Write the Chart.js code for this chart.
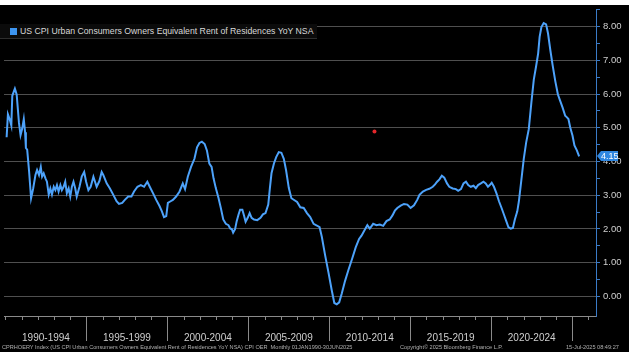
<!DOCTYPE html>
<html>
<head>
<meta charset="utf-8">
<script src="https://cdn.jsdelivr.net/npm/chart.js@4.4.1/dist/chart.umd.min.js"></script>
<style>
  body{margin:0;background:#fff;width:629px;height:352px;overflow:hidden;font-family:'Liberation Sans',Arial,sans-serif}
  #panel{position:absolute;left:0;top:5px;width:629px;height:347px;background:#000}
  #chart{position:absolute;left:0;top:0}
  #legend{position:absolute;left:0;top:19px;width:317px;height:14px;background:#0b0b0b;border-bottom:1px solid #2e2e2e;color:#d8d8d8;font-size:8.7px;line-height:14px;white-space:nowrap}
  #legend span{display:inline-block;width:7px;height:7px;background:#3d95f0;margin:0 3px 0 10px;vertical-align:-0.5px}
  .foot{position:absolute;top:338px;font-size:5.6px;color:#b0b0b0;white-space:nowrap;line-height:8px}
</style>
</head>
<body>
<div id="panel">
  <canvas id="chart" width="629" height="347"></canvas>
  <div id="legend"><span></span>US CPI Urban Consumers Owners Equivalent Rent of Residences YoY NSA</div>
  <div class="foot" style="left:2px">CPRHOERY Index (US CPI Urban Consumers Owners Equivalent Rent of Residences YoY NSA) CPI OER&nbsp; Monthly 01JAN1990-30JUN2025</div>
  <div class="foot" style="left:400px">Copyright© 2025 Bloomberg Finance L.P.</div>
  <div class="foot" style="left:566px">15-Jul-2025 08:49:27</div>
</div>
<script>
window.onload=function(){

  // decimal year of each point
  var dateX = [1990.07,1990.15,1990.28,1990.36,1990.42,1990.58,1990.69,1990.83,1990.93,1991.03,1991.13,1991.21,1991.26,1991.34,1991.46,1991.58,1991.71,1991.85,1991.95,1992.07,1992.18,1992.26,1992.36,1992.47,1992.56,1992.67,1992.77,1992.87,1992.98,1993.08,1993.18,1993.28,1993.39,1993.48,1993.59,1993.69,1993.79,1993.90,1994.00,1994.10,1994.20,1994.31,1994.40,1994.57,1994.71,1994.86,1994.98,1995.12,1995.26,1995.43,1995.53,1995.63,1995.80,1995.94,1996.04,
    1996.25,1996.45,1996.66,1996.86,1997.01,1997.21,1997.37,1997.58,1997.78,1997.94,1998.15,1998.36,1998.56,1998.76,1998.91,1999.11,1999.31,1999.52,1999.66,1999.79,1999.93,2000.03,2000.20,2000.34,2000.54,2000.75,2000.95,2001.09,2001.26,2001.46,2001.67,2001.83,2001.98,2002.13,2002.30,2002.44,2002.59,2002.73,2002.85,2002.99,2003.16,2003.30,2003.45,2003.61,2003.77,2003.88,2003.98,2004.06,2004.18,2004.28,2004.39,2004.49,2004.63,2004.74,2004.83,2004.96,
    2005.08,2005.20,2005.35,2005.55,2005.75,2005.90,2006.06,2006.23,2006.33,2006.43,2006.58,2006.72,2006.88,2007.04,2007.19,2007.33,2007.50,2007.66,2008.01,2008.21,2008.42,2008.62,2008.82,2009.03,2009.23,2009.40,2009.54,2009.74,2009.95,2010.15,2010.31,2010.46,2010.61,2010.77,2010.97,2011.18,2011.40,2011.63,2011.84,2011.99,2012.20,2012.35,2012.50,2012.71,2012.91,2013.12,2013.33,2013.53,2013.73,2013.90,2014.05,2014.20,2014.41,2014.61,2014.82,
    2015.02,2015.23,2015.43,2015.57,2015.78,2015.98,2016.18,2016.39,2016.53,2016.66,2016.80,2016.95,2017.10,2017.27,2017.41,2017.62,2017.82,2017.96,2018.13,2018.29,2018.44,2018.58,2018.74,2018.91,2019.05,2019.19,2019.36,2019.52,2019.66,2019.80,2019.91,2020.03,2020.17,2020.32,2020.48,2020.64,2020.79,2020.93,2021.06,2021.20,2021.34,2021.46,2021.61,2021.71,2021.85,2022.01,2022.16,2022.32,2022.48,2022.63,2022.77,2022.90,2022.99,2023.10,2023.24,2023.39,2023.51,2023.65,2023.79,2023.96,2024.12,2024.26,2024.41,2024.57,2024.68,2024.77,2024.88,2025.02,2025.14,2025.29,2025.43]

  // OER YoY %, same order
  var oerYoY = [4.72,5.40,5.22,5.07,5.95,6.16,5.99,5.16,4.78,4.97,5.26,4.87,4.40,4.35,3.69,2.91,3.20,3.60,3.75,3.60,3.84,3.55,3.65,3.50,3.40,3.02,3.20,3.02,3.25,3.15,3.30,3.11,3.30,3.15,3.25,3.40,3.06,3.20,2.96,3.25,3.40,3.20,2.96,3.25,3.55,3.69,3.40,3.15,3.25,3.55,3.40,3.25,3.42,3.69,3.60,
    3.35,3.20,3.01,2.82,2.74,2.77,2.86,2.96,2.96,3.11,3.25,3.30,3.25,3.40,3.25,3.06,2.86,2.67,2.52,2.35,2.38,2.77,2.82,2.86,2.96,3.11,3.35,3.18,3.55,3.84,4.08,4.42,4.55,4.59,4.52,4.33,3.94,3.84,3.50,3.21,2.91,2.62,2.28,2.15,2.11,2.01,1.99,1.89,1.99,2.23,2.42,2.57,2.57,2.38,2.21,2.33,
    2.47,2.33,2.28,2.26,2.33,2.43,2.47,2.72,3.21,3.65,3.94,4.13,4.28,4.26,4.08,3.74,3.21,2.91,2.80,2.64,2.62,2.47,2.35,2.15,2.10,2.05,1.76,1.22,0.70,0.18,-0.20,-0.24,-0.18,0.08,0.45,0.78,1.10,1.45,1.70,1.80,1.98,2.11,2.01,2.15,2.11,2.13,2.09,2.23,2.28,2.40,2.54,2.62,2.69,2.74,2.72,
    2.62,2.70,2.86,3.01,3.11,3.16,3.19,3.25,3.32,3.40,3.47,3.58,3.52,3.35,3.25,3.20,3.18,3.13,3.18,3.35,3.40,3.30,3.25,3.28,3.21,3.30,3.35,3.40,3.35,3.25,3.30,3.37,3.25,3.06,2.82,2.62,2.42,2.23,2.05,2.01,2.03,2.28,2.52,2.82,3.40,4.08,4.57,4.96,5.75,6.43,6.82,7.21,7.70,7.99,8.11,8.07,7.80,7.31,6.87,6.38,5.99,5.80,5.60,5.36,5.31,5.26,5.01,4.77,4.48,4.33,4.15]

  var lastLabel = '4.15'
  var yTicks = [0,0.5,1,1.5,2,2.5,3,3.5,4,4.5,5,5.5,6,6.5,7,7.5,8,8.5]
  var periodMid = [1992.5,1997.5,2002.5,2007.5,2012.5,2017.5,2022.5]
  var periodLabels = ['1990-1994','1995-1999','2000-2004','2005-2009','2010-2014','2015-2019','2020-2024']
  var separators = [1995,2000,2005,2010,2015,2020,2025]
  var redDot = [{x:2012.79, y:4.89}]

  Chart.defaults.font.family = "'Liberation Sans', Arial, sans-serif"

  // x axis line, yearly ticks, 5 year separators, last value tag
  var axisDeco = {
    id:'axisDeco',
    afterDraw:function(chart){
      var c = chart.ctx, a = chart.chartArea, xs = chart.scales.x, ys = chart.scales.y
      c.save()
      c.strokeStyle = '#8a8a8a'
      c.lineWidth = 1
      c.beginPath()
      c.moveTo(a.left, a.bottom+0.5); c.lineTo(a.right, a.bottom+0.5)
      for (var yr=1990; yr<=2026; yr++){
        var px = Math.round(xs.getPixelForValue(yr))+0.5
        var len = separators.indexOf(yr)>=0 ? 25 : 4
        c.moveTo(px, a.bottom); c.lineTo(px, a.bottom+len)
      }
      c.stroke()

      // current value tag
      var v = oerYoY[oerYoY.length-1]
      var py = Math.round(ys.getPixelForValue(v))
      var x0 = a.right+1
      c.fillStyle = '#2f86e0'
      c.beginPath()
      c.moveTo(x0, py)
      c.lineTo(x0+4, py-5)
      c.lineTo(x0+21, py-5)
      c.lineTo(x0+21, py+5)
      c.lineTo(x0+4, py+5)
      c.closePath()
      c.fill()
      c.fillStyle = '#ffffff'
      c.font = "9px 'Liberation Sans', Arial, sans-serif"
      c.textBaseline = 'middle'
      c.fillText(lastLabel, x0+4, py+0.5)
      c.restore()
    }
  }

  var ctx = document.getElementById('chart')
  var ReportChart = new Chart(ctx, {
    type:'line',
    data:{
      datasets:[
        {label:'OER YoY', data:dateX.map(function(x,i){return {x:x, y:oerYoY[i]}}), borderColor:'#4da2fa', borderWidth:2, pointRadius:0, tension:0},
        {type:'scatter', label:'mark', data:redDot, backgroundColor:'#e3262a', borderWidth:0, pointRadius:2}
      ]
    },
    options:{
      responsive:false,
      animation:false,
      layout:{padding:0},
      plugins:{legend:{display:false}, tooltip:{enabled:false}},
      scales:{
        x:{
          type:'linear', min:1989.908, max:2026.472,
          grid:{display:false},
          border:{display:false},
          afterBuildTicks:function(s){ s.ticks = periodMid.map(function(v){return {value:v}}) },
          afterFit:function(s){ s.height = 36; s.paddingLeft = 0; s.paddingRight = 0 },
          ticks:{
            autoSkip:false, maxRotation:0, padding:8, color:'#cfcfcf', font:{size:10},
            callback:function(v){ return periodLabels[periodMid.indexOf(v)] }
          }
        },
        y:{
          position:'right', min:-0.586, max:8.527,
          afterBuildTicks:function(s){ s.ticks = yTicks.map(function(v){return {value:v}}) },
          afterFit:function(s){ s.width = 33; s.paddingTop = 0; s.paddingBottom = 0 },
          border:{display:true, color:'#3a7bc8', width:1},
          grid:{
            color:function(c){ return c.tick && c.tick.value%1===0 ? '#4f4f4f' : 'rgba(0,0,0,0)' },
            tickColor:'#3a7bc8', tickLength:4, drawTicks:true
          },
          ticks:{
            padding:3, color:'#cfcfcf', font:{size:9.5},
            callback:function(v){ return v%1===0 ? v.toFixed(2) : '' }
          }
        }
      }
    },
    plugins:[axisDeco]
  })

}
</script>
</body>
</html>
